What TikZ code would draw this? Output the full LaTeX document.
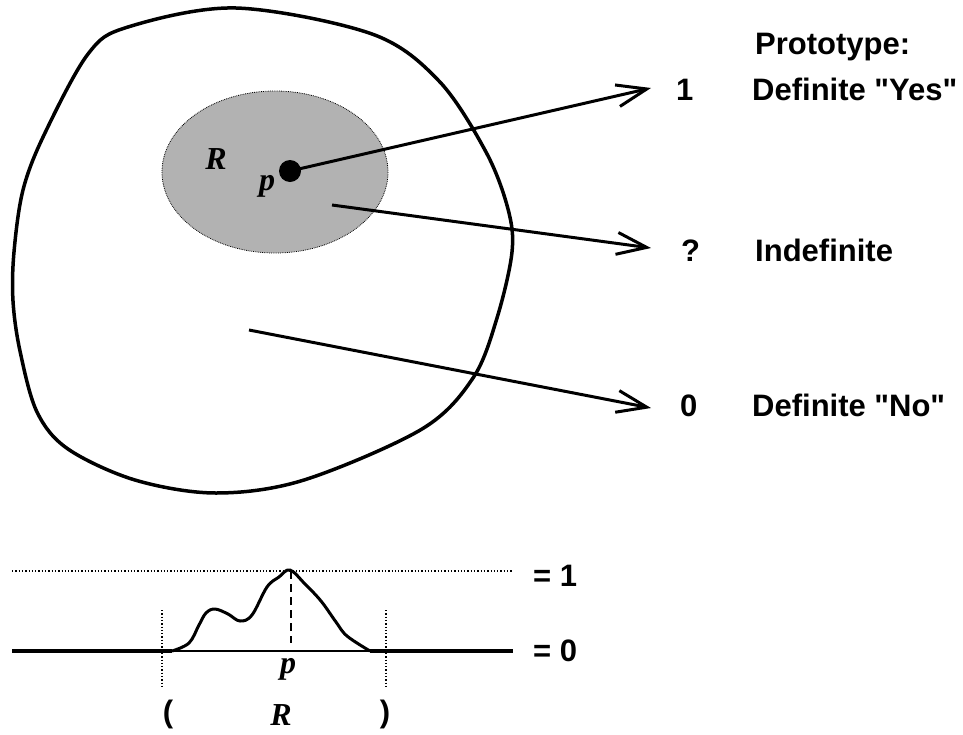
\documentclass[tikz,border=0pt]{standalone}
\usepackage{fontspec}
\newfontfamily\labfont{Liberation Sans}
\newfontfamily\serifbi{Liberation Serif}
\usetikzlibrary{arrows.meta}
\begin{document}
\begin{tikzpicture}[x=1pt,y=-1pt,
  lab/.style={font=\labfont\fontsize{31}{31}\selectfont\bfseries, anchor=base west, inner sep=0},
  mathlab/.style={font=\serifbi\fontsize{32}{32}\selectfont\bfseries\itshape, inner sep=0},
  conn/.style={line width=3pt, -{Straight Barb[length=30pt,width=22pt,line width=3pt]}},
  thickline/.style={line width=3.5pt},
  dotline/.style={line width=1.3pt, dotted}
]
\useasboundingbox (0,0) rectangle (963,734);
% outer blob
\draw[line width=3.5pt] plot[smooth cycle, tension=0.55] coordinates {
 (236,8) (372,34) (439,81) (486,152) (508,209) (512,252) (497,318) (473,378)
 (422,429) (304,480) (216,493) (135,480) (68,449) (37,412) (20,351) (13,301)
 (14,252) (23,190) (44,135) (88,54) (128,27)};
% region R
\draw[fill=black!30, line width=0.8pt, densely dotted] (275,172) ellipse [x radius=113, y radius=81];
\node[mathlab] (R1) at (216,159) {R};
\node[circle, fill=black, minimum size=22pt, inner sep=0] (dot) at (290,171) {};
\node[mathlab] (p1) at (267,186) {p};
% labels
\node[lab] (proto) at (755,54) {Prototype:};
\node[lab] (one) at (676,100) {1};
\node[lab] (yes) at (752,100) {Definite "Yes"};
\node[lab] (q) at (681,261) {?};
\node[lab] (indef) at (755,261) {Indefinite};
\node[lab] (zero) at (680,416) {0};
\node[lab] (no) at (752,416) {Definite "No"};
\coordinate (t1) at (651,88);
\coordinate (t2) at (651,248);
\coordinate (t3) at (651,408);
\coordinate (s2) at (332,205);
\coordinate (s3) at (249,330);
\draw[conn] (dot.center) -- (t1);
\draw[conn] (s2) -- (t2);
\draw[conn] (s3) -- (t3);
% bottom membership function
\coordinate (L0) at (12,651);
\coordinate (R0) at (513,651);
\coordinate (L1) at (12,571);
\coordinate (R1b) at (513,571);
\draw[dotline] (L1) -- (R1b);
\draw[line width=1.5pt] (172,651) -- (370,651);
\draw[thickline] (L0) -- (172,651);
\draw[thickline] (370,651) -- (R0);
\draw[line width=3pt, line join=round] plot[smooth, tension=0.6] coordinates {
 (172,651) (189,643) (199,625) (206,613) (215,609) (228,614) (240,621) (252,615)
 (267,587) (279,577) (290,570) (305,584) (321,601) (336,622) (347,636) (370,651)};
\draw[dotline] (162,610) -- (162,686);
\draw[dotline] (386,610) -- (386,686);
\draw[line width=1.3pt, dash pattern=on 8pt off 5pt] (291,571) -- (291,643);
\node[lab] (eq1) at (533,586) {= 1};
\node[lab] (eq0) at (533,661) {= 0};
\node[mathlab] (p2) at (288,669) {p};
\node[lab, anchor=center] (lp) at (168,714) {(};
\node[mathlab] (R2) at (281,715) {R};
\node[lab, anchor=center] (rp) at (385,714) {)};
\end{tikzpicture}
\end{document}
